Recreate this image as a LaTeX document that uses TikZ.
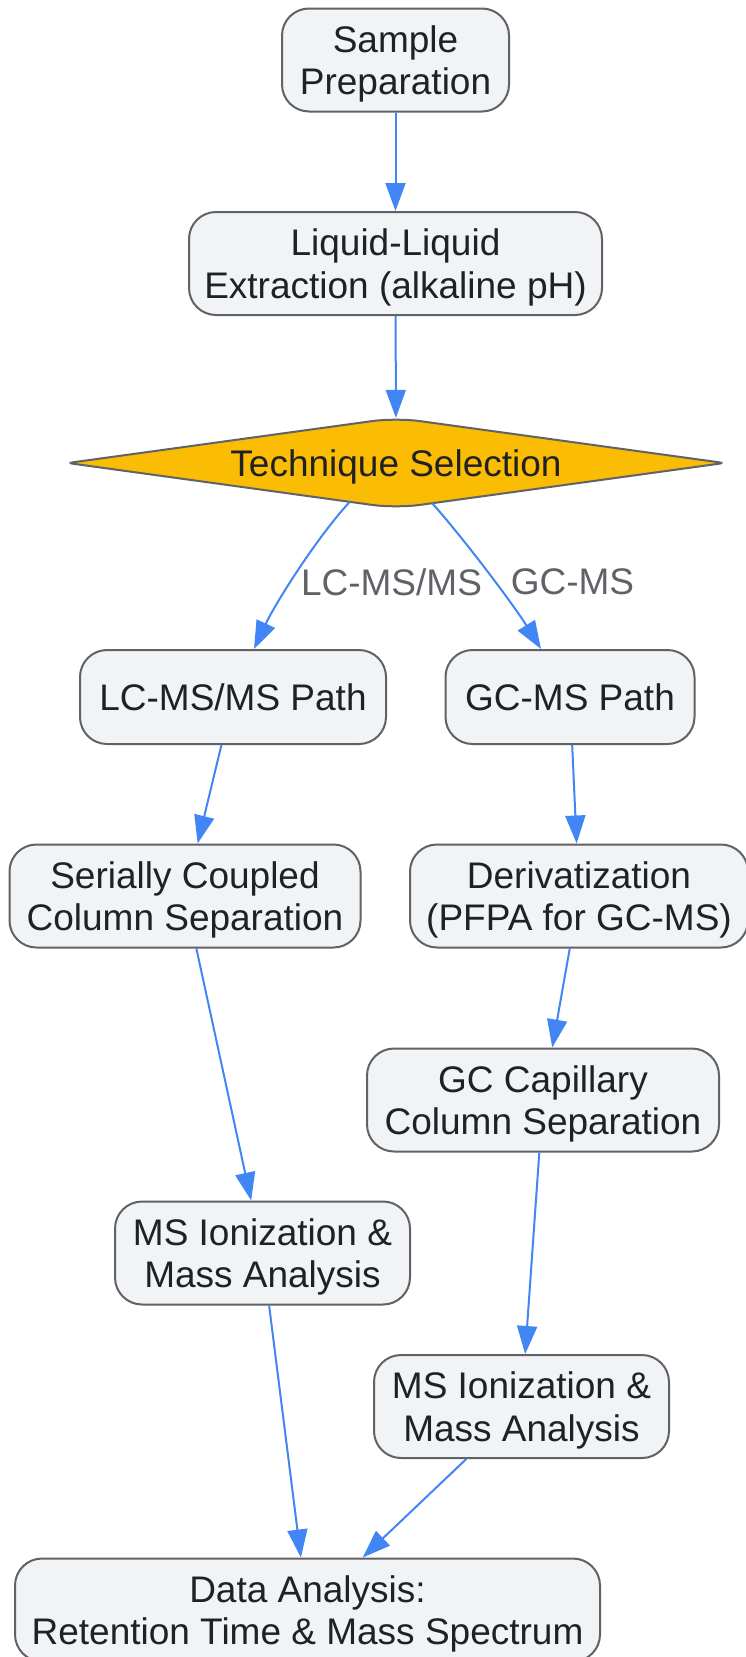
\documentclass[tikz,border=0pt]{standalone}
\usepackage{fontspec}
\setmainfont{Liberation Sans}
\usetikzlibrary{shapes.geometric,arrows.meta,calc}
\definecolor{boxfill}{HTML}{F1F3F4}
\definecolor{boxline}{HTML}{5F6368}
\definecolor{txtc}{HTML}{202124}
\definecolor{arrowc}{HTML}{4285F4}
\definecolor{diafill}{HTML}{FBBC04}
\definecolor{lblc}{HTML}{5F6368}
\pgfdeclarelayer{bg}
\pgfsetlayers{bg,main}
\begin{document}
\begin{tikzpicture}[x=1pt,y=-1pt,
  box/.style={draw=boxline, fill=boxfill, line width=2pt, rounded corners=27pt,
    align=center, text=txtc, font=\fontsize{37}{42.5}\selectfont, inner sep=0pt, text depth=0pt},
  onebox/.style={box, text depth=-4pt},
  dia/.style={diamond, aspect=7, text=txtc, font=\fontsize{37}{42.5}\selectfont,
    inner sep=0pt, minimum width=656pt, minimum height=90pt, text depth=-1pt},
  diabord/.style={draw=boxline, fill=diafill, line width=2pt},
  arr/.style={draw=arrowc, line width=2pt, -{Triangle[length=28pt,width=20pt]}},
  lbl/.style={text=lblc, font=\fontsize{37}{42.5}\selectfont, inner sep=0pt}]
\useasboundingbox (0,0) rectangle (746,1657);
\begin{pgfonlayer}{bg}
\fill[white] (0,0) rectangle (746,1657);
\end{pgfonlayer}

\node[box, minimum width=227pt, minimum height=103pt] (sp) at (395.5,60) {Sample\\Preparation};
\node[box, minimum width=413pt, minimum height=103pt] (lle) at (395.5,263.5) {Liquid-Liquid\\Extraction (alkaline pH)};
\node[dia] (ts) at (396,463) {Technique Selection};
\begin{pgfonlayer}{bg}
\filldraw[diabord] ($(ts.west)!0.5!(ts.north)$) [rounded corners=24pt] -- (ts.north)
  [rounded corners=5pt] -- (ts.east) [rounded corners=24pt] -- (ts.south)
  [rounded corners=5pt] -- (ts.west) -- cycle;
\end{pgfonlayer}
\node[onebox, minimum width=306pt, minimum height=94pt] (lc) at (233,697) {LC-MS/MS Path};
\node[onebox, minimum width=249pt, minimum height=94pt] (gc) at (570,697) {GC-MS Path};
\node[box, minimum width=351pt, minimum height=103pt] (ser) at (185,896) {Serially Coupled\\Column Separation};
\node[box, minimum width=338pt, minimum height=103pt] (der) at (579,896) {Derivatization\\(PFPA for GC-MS)};
\node[box, minimum width=352pt, minimum height=103pt] (cap) at (543,1100) {GC Capillary\\Column Separation};
\node[box, minimum width=295pt, minimum height=103pt] (msl) at (262.5,1253) {MS Ionization \&\\Mass Analysis};
\node[box, minimum width=295pt, minimum height=103pt] (msr) at (521.5,1406.5) {MS Ionization \&\\Mass Analysis};
\node[box, minimum width=585pt, minimum height=103pt] (da) at (307.5,1610) {Data Analysis:\\Retention Time \& Mass Spectrum};

\node[lbl] (l1) at (391.5,582) {LC-MS/MS};
\node[lbl] (l2) at (572.5,582) {GC-MS};

\draw[arr] (sp) -- (lle);
\draw[arr] (lle) -- (ts);
\draw[arr] (ts.220) .. controls ($(ts.220)+(-34,37)$) and ($(lc.north)+(42,-45)$) .. ($(lc.north)+(21,0)$);
\draw[arr] (ts.312) .. controls ($(ts.312)+(33,37)$) and ($(gc.north)+(-55,-42)$) .. ($(gc.north)+(-29,0)$);
\draw[arr] (lc) -- (ser);
\draw[arr] (gc) -- (der);
\draw[arr] (ser) -- (msl);
\draw[arr] (der) -- (cap);
\draw[arr] (cap) -- (msr);
\draw[arr] (msl) -- (da);
\draw[arr] (msr) -- (da);
\end{tikzpicture}
\end{document}
